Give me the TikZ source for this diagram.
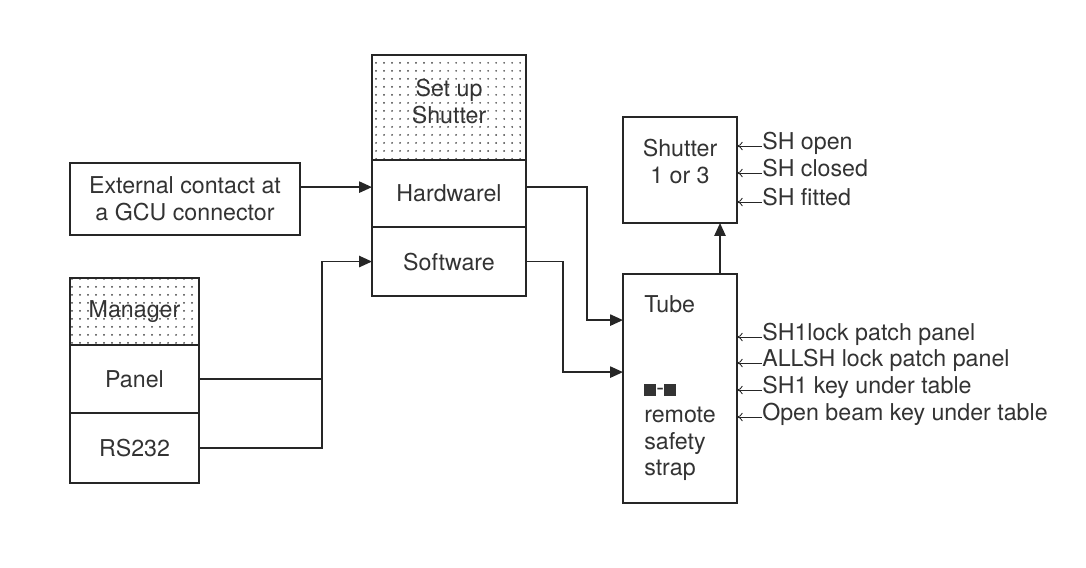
\documentclass[tikz,border=0pt]{standalone}
\usepackage{fontspec}
\setmainfont{TeX Gyre Heros}
\usetikzlibrary{arrows.meta,patterns.meta,positioning}

\begin{document}
\begin{tikzpicture}[
x=0.025cm, y=-0.025cm,
every node/.style={
font=\fontsize{16.5}{19}\selectfont,
text=black!80
},
box/.style={draw=black!85, line width=1.2pt, outer sep=0pt, inner sep=0pt, align=center},
dotbox/.style={box, pattern={Dots[distance=0.2cm, radius=0.7pt]}, pattern color=black!75},
arr/.style={draw=black!85, line width=1.2pt, -{Triangle[length=0.32cm,width=0.28cm]}},
tag/.style={anchor=west, inner sep=0pt, text height=0.7em, text depth=0.2em},
sig/.style={draw=black!85, line width=0.6pt, {To[length=4pt,width=6pt]}-}
]
\fill[white] (0,0) rectangle (1086,567);
\useasboundingbox (0,0) rectangle (1086,567);

% left inputs
\node[box, minimum width=5.75cm, minimum height=1.8cm] (ext) at (185,199) {External contact at\\a GCU connector};
\node[dotbox, minimum width=3.225cm, minimum height=1.675cm] (manager) at (134.5,311.5) {Manager};
\node[box, minimum width=3.225cm, minimum height=1.7cm, below=0pt of manager] (panel) {Panel};
\node[box, minimum width=3.225cm, minimum height=1.75cm, below=0pt of panel] (rs) {RS232};

% shutter set up
\node[dotbox, minimum width=3.85cm, minimum height=2.625cm] (setup) at (449,107.5) {Set up\\Shutter\\[-0.37cm]\mbox{}};
\node[box, minimum width=3.85cm, minimum height=1.675cm, below=0pt of setup] (hw) {Hardwarel};
\node[box, minimum width=3.85cm, minimum height=1.725cm, below=0pt of hw] (sw) {Software};

% shutter and tube
\node[box, minimum width=2.85cm, minimum height=2.65cm] (shutter) at (680,170) {Shutter\\1 or 3\\[-0.22cm]\mbox{}};
\node[box, minimum width=2.85cm, minimum height=5.725cm, align=left] (tube) at (680,388.5)
{Tube\\[1.4cm]\rule{0.3cm}{0.3cm}-\rule{0.3cm}{0.3cm}\\remote\\safety\\strap};

% status signals
\node[tag] (shopen) at (762,146) {SH open};
\node[tag] (shclosed) at (762,173) {SH closed};
\node[tag] (shfitted) at (762,202) {SH fitted};
\node[tag] (lockone) at (762,337) {SH1lock patch panel};
\node[tag] (lockall) at (762,363) {ALLSH lock patch panel};
\node[tag] (keyone) at (762,390) {SH1 key under table};
\node[tag] (keybeam) at (762,417) {Open beam key under table};

\draw[sig] (shutter.east |- shopen.west) -- (shopen.west);
\draw[sig] (shutter.east |- shclosed.west) -- (shclosed.west);
\draw[sig] (shutter.east |- shfitted.west) -- (shfitted.west);
\draw[sig] (tube.east |- lockone.west) -- (lockone.west);
\draw[sig] (tube.east |- lockall.west) -- (lockall.west);
\draw[sig] (tube.east |- keyone.west) -- (keyone.west);
\draw[sig] (tube.east |- keybeam.west) -- (keybeam.west);

% connections
\coordinate (hwin) at ([yshift=0.16cm]hw.west);
\coordinate (hwout) at ([yshift=0.16cm]hw.east);
\coordinate (bus) at (322,258);
\draw[arr] (ext.east |- hwin) -- (hwin);
\draw[arr] (rs.east) -- (rs.east -| bus) |- (sw.west);
\draw[arr, -] (panel.east) -- (panel.east -| bus);
\draw[arr] (hwout) -- ++(61,0) |- ([yshift=1.71cm]tube.west);
\draw[arr] (sw.east) -- ++(37,0) |- ([yshift=0.41cm]tube.west);
\draw[arr] ([xshift=1cm]tube.north) -- ([xshift=1cm]tube.north |- shutter.south);

\end{tikzpicture}
\end{document}
